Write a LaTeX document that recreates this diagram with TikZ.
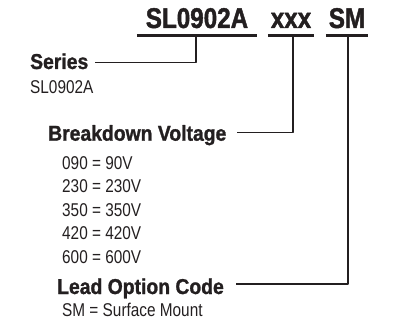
\documentclass[tikz,border=0pt]{standalone}
\usepackage{fontspec}
\newfontfamily\titlefont{Liberation Sans}[FakeStretch=0.85, BoldFeatures={FakeBold=1.5}]
\newfontfamily\lblfont{Liberation Sans}[FakeStretch=0.9, BoldFeatures={FakeBold=1.2}]
\newfontfamily\valfont{Liberation Sans}[FakeStretch=0.83]
\definecolor{ink}{HTML}{231F20}
\tikzset{>=latex,
    titlebox/.style = {anchor=base, inner xsep=0pt, inner ysep=7pt, text=ink,
        font=\titlefont\bfseries\fontsize{28.5}{28.5}\selectfont},
    lbl/.style = {anchor=base west, inner sep=0pt, text=ink,
        font=\lblfont\bfseries\fontsize{21.5}{21.5}\selectfont},
    val/.style = {anchor=base west, inner sep=0pt, text=ink,
        font=\valfont\fontsize{18.5}{18.5}\selectfont},
    uline/.style = {ink, line width=3.2pt},
    lead/.style = {ink, line width=1.1pt}}

\begin{document}
\begin{tikzpicture}[x=1pt, y=-1pt, line join = round]
    \useasboundingbox (0,0) rectangle (395,323);
    % part number
    \node[titlebox, minimum width=120pt] (t1) at (197,28) {SL0902A};
    \node[titlebox, minimum width=46pt] (t2) at (291,28) {xxx};
    \node[titlebox, minimum width=42pt] (t3) at (347,28) {SM};
    \draw[uline] (t1.south west) -- (t1.south east);
    \draw[uline] (t2.south west) -- (t2.south east);
    \draw[uline] (t3.south west) -- (t3.south east);

    % labels
    \node[lbl] (series) at (30,69) {Series};
    \node[val] (seriesval) at (30,94) {SL0902A};
    \node[lbl] (volt) at (48,140.7) {Breakdown Voltage};
    \foreach \code/\v [count=\i] in {090/90V, 230/230V, 350/350V, 420/420V, 600/600V}
        \node[val] (v\i) at (62,145.5+23.5*\i) {\code\ = \v};
    \node[lbl] (leadcode) at (57,294) {Lead Option Code};
    \node[val] (leadval) at (62,316.5) {SM = Surface Mount};

    % connectors
    \draw[lead] ([xshift=-1pt]t1.south) |- ([shift={(7,-6.5)}]series.base east);
    \draw[lead] ([xshift=2pt]t2.south) |- ([shift={(10,-8.5)}]volt.base east);
    \draw[lead] ([xshift=1pt]t3.south) |- ([shift={(12,-10)}]leadcode.base east);

\end{tikzpicture}
\end{document}
